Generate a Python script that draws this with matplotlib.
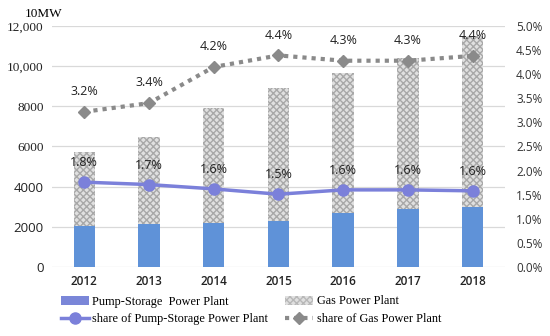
import numpy as np
import matplotlib.pyplot as plt
from matplotlib.lines import Line2D
from matplotlib.patches import Patch

years = ['2012', '2013', '2014', '2015', '2016', '2017', '2018']
pump = [2030, 2150, 2190, 2300, 2670, 2870, 3000]
gas = [3690, 4300, 5710, 6600, 6980, 7530, 8500]
pump_share = [1.76, 1.71, 1.62, 1.51, 1.60, 1.60, 1.58]
gas_share = [3.22, 3.40, 4.15, 4.39, 4.28, 4.28, 4.38]
pump_lbl = ['1.8%', '1.7%', '1.6%', '1.5%', '1.6%', '1.6%', '1.6%']
gas_lbl = ['3.2%', '3.4%', '4.2%', '4.4%', '4.3%', '4.3%', '4.4%']
left_ticks = [0, 2000, 4000, 6000, 8000, 10000, 12000]
left_lbls = ['0', '2000', '4000', '6000', '8000', '10,000', '12,000']

serif = 'Liberation Serif'
sans = 'Open Sans'
c_pump = '#5f92d8'
c_line = '#7b80da'
c_gas_line = '#8a8a8a'

fig = plt.figure(figsize=(5.5, 3.36), dpi=100)
ax = fig.add_axes([0.0945, 0.2054, 0.8235, 0.7172])
x = np.arange(len(years))

ax.bar(x, pump, width=0.33, color=c_pump, zorder=2)
ax.bar(x, gas, width=0.33, bottom=pump, facecolor='#e0e0e0', edgecolor='#a8a8a8',
       hatch='xxxxx', linewidth=0, zorder=2)
ax.set_ylim(0, 12000)
ax.set_xlim(-0.5, 6.5)
ax.set_yticks(left_ticks)
ax.set_yticklabels(left_lbls)
for t, lab in zip(ax.get_yticklabels(), left_lbls):
    t.set_fontsize(9.5)
    t.set_family(serif if lab in ('12,000', '10,000', '8000', '6000') else sans)
    t.set_color('#222222')
ax.set_xticks(x)
ax.set_xticklabels(years, family=sans, fontsize=8.5, color='#222222', fontweight='semibold')
ax.tick_params(length=0, pad=6)
ax.grid(axis='y', color='#d9d9d9', linewidth=0.9, zorder=0)
for s in ax.spines.values():
    s.set_visible(False)

ax2 = ax.twinx()
ax2.plot(x, pump_share, color=c_line, lw=2.5, marker='o', ms=8, zorder=3)
ax2.plot(x, gas_share, color=c_gas_line, lw=3, ls=(0, (1, 1.2)), marker='D', ms=6.5, zorder=3)
ax2.set_ylim(0, 5)
ax2.set_yticks(np.arange(0, 5.01, 0.5))
ax2.set_yticklabels(['%.1f%%' % v for v in np.arange(0, 5.01, 0.5)], family=sans,
                    fontsize=8.5, color='#333333')
ax2.tick_params(length=0, pad=8)
for s in ax2.spines.values():
    s.set_visible(False)

for i in range(len(years)):
    ax2.annotate(pump_lbl[i], (x[i], pump_share[i]), xytext=(0, 14), textcoords='offset points',
                 ha='center', va='center', family=sans, fontsize=9, color='#222222')
    ax2.annotate(gas_lbl[i], (x[i], gas_share[i]), xytext=(0, 14.5), textcoords='offset points',
                 ha='center', va='center', family=sans, fontsize=9, color='#222222')

fig.text(0.045, 0.958, '10MW', family=serif, fontsize=9.5, ha='left', va='center')

handles = [Patch(facecolor='#7a86d8'),
           Line2D([], [], color=c_line, lw=2.5, marker='o', ms=8),
           Patch(facecolor='#e0e0e0', edgecolor='#b8b8b8', hatch='xxxxx', linewidth=0),
           Line2D([], [], color=c_gas_line, lw=3, ls=(0, (1, 1.2)), marker='D', ms=6)]
labels = ['Pump-Storage  Power Plant', 'share of Pump-Storage Power Plant',
          'Gas Power Plant', 'share of Gas Power Plant']
fig.legend(handles, labels, ncol=2, loc='lower left', bbox_to_anchor=(0.09, 0.0),
           frameon=False, prop={'family': serif, 'size': 8.8}, handlelength=2.3,
           handletextpad=0.3, columnspacing=1.4, labelspacing=0.45)

fig.savefig('out.png', dpi=100, facecolor='white')
